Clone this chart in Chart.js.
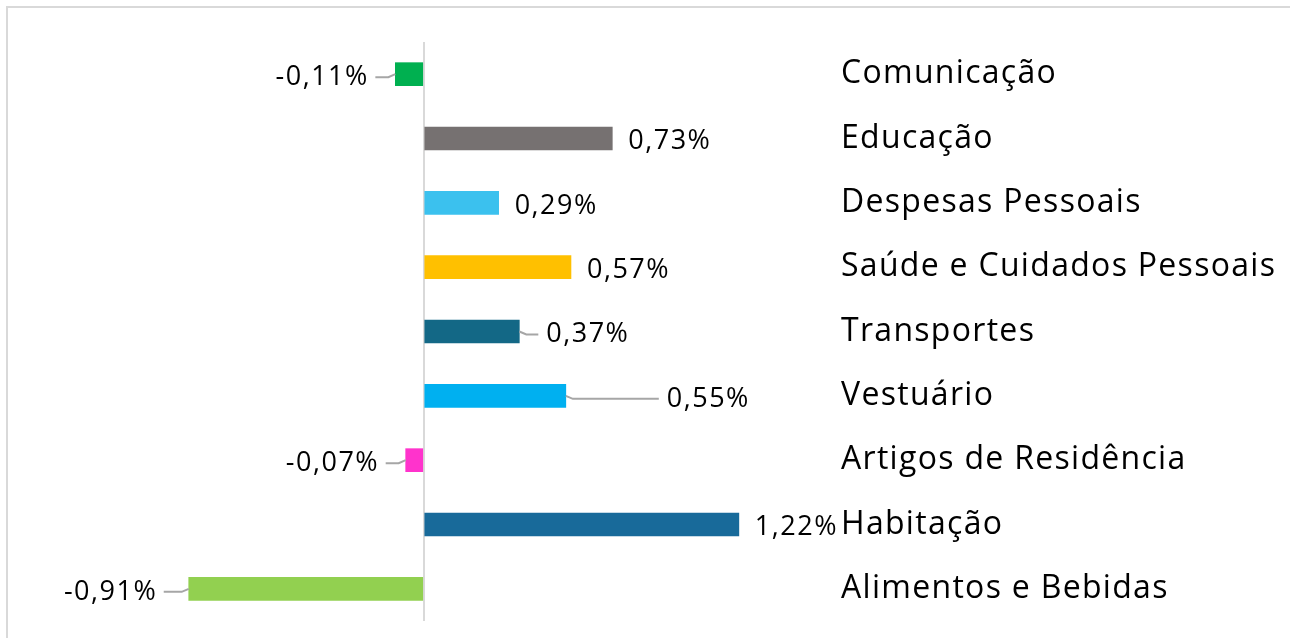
<!DOCTYPE html>
<html>
<head>
<meta charset="utf-8">
<script src="https://cdn.jsdelivr.net/npm/chart.js@4"></script>
<style>
  html, body { margin: 0; padding: 0; background: #fff; overflow: hidden; }
  #moldura { position: absolute; left: 6px; top: 6px; width: 1400px; height: 700px; border: 2px solid #d9d9d9; }
  #grafico { position: absolute; left: 0; top: 0; }
</style>
</head>
<body>
<div id="moldura"></div>
<canvas id="grafico" width="1290" height="638"></canvas>
<script>
// dados
const categorias = ['Comunicação', 'Educação', 'Despesas Pessoais', 'Saúde e Cuidados Pessoais',
  'Transportes', 'Vestuário', 'Artigos de Residência', 'Habitação', 'Alimentos e Bebidas']
const variacoes = [-0.11, 0.73, 0.29, 0.57, 0.37, 0.55, -0.07, 1.22, -0.91]
const cores = ['#00b050', '#767171', '#3bc1ee', '#ffc000', '#136886', '#00b0f0', '#ff33cc', '#186a9a', '#92d050']

// estilo dos rótulos (comprimento da linha guia em px, 0 = sem guia)
const guias = [28, 0, 0, 0, 27, 101, 28, 0, 33]
const fonte = "'Open Sans', sans-serif"

function formatar(v) {
  return v.toFixed(2).replace('.', ',') + '%'
}

// espaçamento entre letras pra ficar mais perto da fonte original
const espacamento = {
  id: 'espacamento',
  beforeDraw(chart) {
    chart.ctx.letterSpacing = '1.3px'
  }
}

const rotulos = {
  id: 'rotulos',
  afterDatasetsDraw(chart) {
    const ctx = chart.ctx
    const meta = chart.getDatasetMeta(0)
    ctx.save()
    ctx.font = '27px ' + fonte
    ctx.letterSpacing = '1.5px'
    ctx.fillStyle = '#000'
    ctx.textBaseline = 'middle'
    meta.data.forEach((barra, i) => {
      const v = variacoes[i]
      const dir = v < 0 ? -1 : 1
      const fim = barra.x
      const ty = barra.y + 3
      const guia = guias[i]
      if (guia > 0) {
        ctx.beginPath()
        ctx.strokeStyle = '#a6a6a6'
        ctx.lineWidth = 2
        ctx.moveTo(fim, barra.y)
        ctx.lineTo(fim + dir * 7, ty)
        ctx.lineTo(fim + dir * (guia - 8), ty)
        ctx.stroke()
      }
      const gap = guia > 0 ? guia : 16
      ctx.textAlign = dir < 0 ? 'right' : 'left'
      // letterSpacing deixa espaço no fim do texto, compensa no alinhamento à direita
      const x = fim + dir * gap + (dir < 0 ? 1.5 : 0)
      ctx.fillText(formatar(v), x, ty)
    })
    ctx.restore()
  }
}

new Chart(document.getElementById('grafico'), {
  type: 'bar',
  data: {
    labels: categorias,
    datasets: [{
      data: variacoes,
      backgroundColor: cores,
      borderWidth: 0,
      barThickness: 23
    }]
  },
  options: {
    indexAxis: 'y',
    responsive: false,
    animation: false,
    layout: { padding: { left: 88, top: 42, bottom: 17, right: 0 } },
    plugins: { legend: { display: false }, tooltip: { enabled: false } },
    scales: {
      x: {
        min: -1.3, max: 1.6,
        ticks: { display: false },
        border: { display: false },
        grid: { drawTicks: false, color: '#d9d9d9', lineWidth: 2 },
        afterBuildTicks: (s) => { s.ticks = [{ value: 0 }] },
        afterFit: (s) => { s.height = 0 }
      },
      y: {
        position: 'right',
        border: { display: false },
        grid: { display: false, drawTicks: false },
        ticks: { padding: 4, color: '#000', font: { family: fonte, size: 32 } },
        afterFit: (s) => { s.width = 453; s.paddingTop = 0; s.paddingBottom = 0 }
      }
    }
  },
  plugins: [espacamento, rotulos]
})
</script>
</body>
</html>
